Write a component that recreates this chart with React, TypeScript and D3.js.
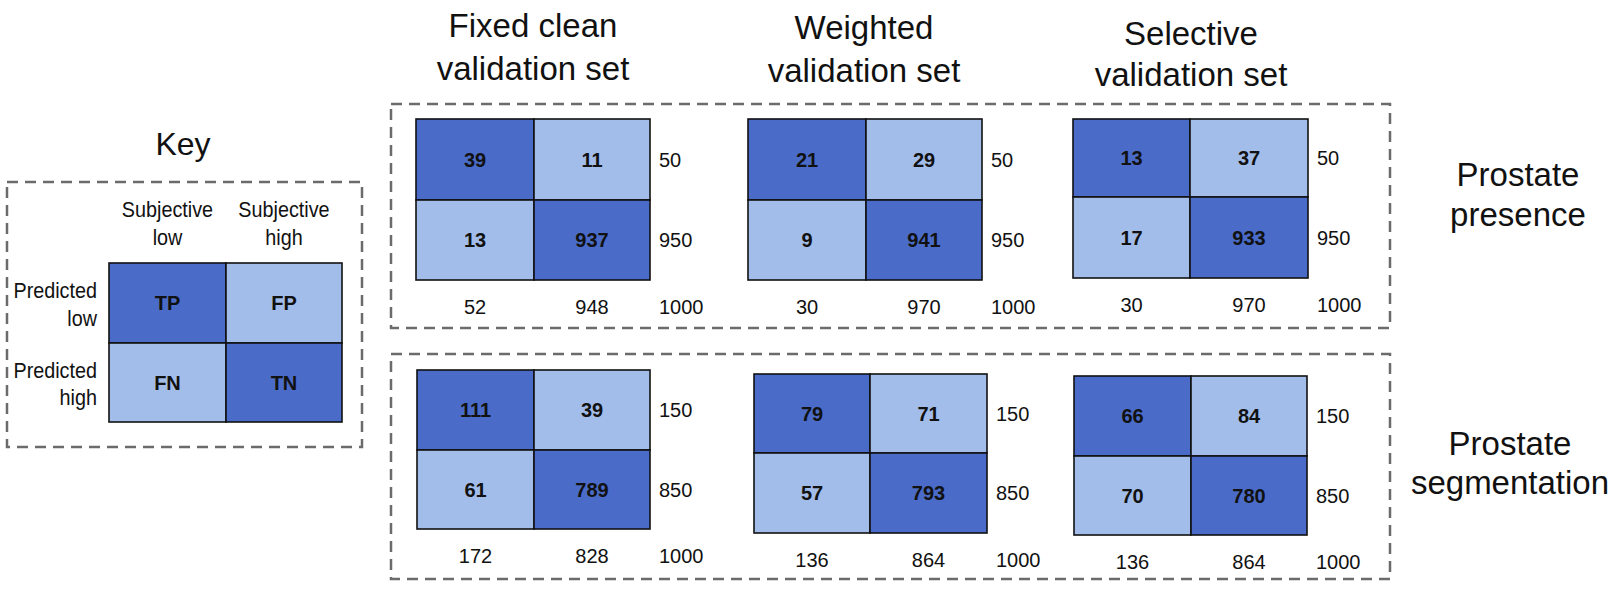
import React from "react";
import * as d3 from "d3";

// ---------- data ----------
const setTitles: string[][] = [
  ["Fixed clean", "validation set"],
  ["Weighted", "validation set"],
  ["Selective", "validation set"],
];
const taskTitles: string[][] = [
  ["Prostate", "presence"],
  ["Prostate", "segmentation"],
];
// presence task, per validation set
const presenceTP = [39, 21, 13];
const presenceFP = [11, 29, 37];
const presenceFN = [13, 9, 17];
const presenceTN = [937, 941, 933];
// segmentation task, per validation set
const segTP = [111, 79, 66];
const segFP = [39, 71, 84];
const segFN = [61, 57, 70];
const segTN = [789, 793, 780];

const keyCells = ["TP", "FP", "FN", "TN"];
const keyColLabels = [["Subjective", "low"], ["Subjective", "high"]];
const keyRowLabels = [["Predicted", "low"], ["Predicted", "high"]];

// ---------- layout (pixel positions, not data) ----------
const W = 1624;
const H = 599;
const FONT = "'Liberation Sans', Arial, Helvetica, sans-serif";
const DARK = "#4A6CC8";
const LIGHT = "#A3BDEA";
const DASH = "#6b6b6b";

// matrix boxes [x0, xMid, x1, y0, yMid, y1] per task row, per set
const matrixBoxes = [
  [
    [416, 534, 650, 119, 200, 280],
    [748, 866, 982, 119, 200, 280],
    [1073, 1190, 1308, 119, 197, 278],
  ],
  [
    [417, 534, 650, 370, 450, 529],
    [754, 870, 987, 374, 453, 533],
    [1074, 1191, 1307, 376, 456, 535],
  ],
];
const titleX = [533, 864, 1191];
const titleY = [[37, 80], [39, 82], [45, 86]];
const groupBoxes = [
  [391, 104, 1390, 328],
  [391, 354, 1390, 579],
];
const taskLabelPos = [
  [1518, 186, 226],
  [1510, 455, 494],
];
const keyBox = [7, 182, 362, 447];
const keyMatrix = [109, 226, 342, 263, 343, 422];
const KEY_SX = 0.9;

function Matrix({ box, values, labels, showTotals }: any) {
  const [x0, xm, x1, y0, ym, y1] = box;
  const xs = d3.scaleLinear().domain([0, 1, 2]).range([x0, xm, x1]);
  const ys = d3.scaleLinear().domain([0, 1, 2]).range([y0, ym, y1]);
  const cells = [0, 1, 2, 3].map((i) => {
    const c = i % 2;
    const r = Math.floor(i / 2);
    return { c, r, dark: c === r, text: labels[i] };
  });
  let totals: any = null;
  if (showTotals) {
    const [tp, fp, fn, tn] = values;
    const rowT = [tp + fp, fn + tn];
    const colT = [tp + fn, fp + tn];
    const all = tp + fp + fn + tn;
    const tx = x1 + 9;
    const ty = y1 + 34;
    totals = (
      <g fontFamily={FONT} fontSize={20} fill="#111">
        {rowT.map((v, r) => (
          <text key={"r" + r} x={tx} y={(ys(r) + ys(r + 1)) / 2} dy="0.35em">
            {v}
          </text>
        ))}
        {colT.map((v, c) => (
          <text key={"c" + c} x={(xs(c) + xs(c + 1)) / 2} y={ty} textAnchor="middle">
            {v}
          </text>
        ))}
        <text x={tx} y={ty}>{all}</text>
      </g>
    );
  }
  return (
    <g>
      {cells.map((d, i) => (
        <g key={i}>
          <rect
            x={xs(d.c)}
            y={ys(d.r)}
            width={xs(d.c + 1) - xs(d.c)}
            height={ys(d.r + 1) - ys(d.r)}
            fill={d.dark ? DARK : LIGHT}
            stroke="#111"
            strokeWidth={1.6}
          />
          <text
            x={(xs(d.c) + xs(d.c + 1)) / 2}
            y={(ys(d.r) + ys(d.r + 1)) / 2}
            dy="0.35em"
            textAnchor="middle"
            fontFamily={FONT}
            fontSize={20}
            fontWeight="bold"
            fill="#111"
          >
            {d.text}
          </text>
        </g>
      ))}
      {totals}
    </g>
  );
}

export default function App() {
  const taskData = [
    [presenceTP, presenceFP, presenceFN, presenceTN],
    [segTP, segFP, segFN, segTN],
  ];
  const [kx0, kxm, kx1] = keyMatrix;
  const colCenters = [(kx0 + kxm) / 2, (kxm + kx1) / 2];
  return (
    <svg
      width={W}
      height={H}
      viewBox={`0 0 ${W} ${H}`}
      style={{ position: "absolute", left: 0, top: 0, display: "block", background: "#fff" }}
    >
      <rect x={0} y={0} width={W} height={H} fill="#fff" />
      {/* Key */}
      <text x={183} y={155} textAnchor="middle" fontFamily={FONT} fontSize={32} fill="#111">
        Key
      </text>
      <rect
        x={keyBox[0]}
        y={keyBox[1]}
        width={keyBox[2] - keyBox[0]}
        height={keyBox[3] - keyBox[1]}
        fill="none"
        stroke={DASH}
        strokeWidth={2.5}
        strokeDasharray="11,7"
      />
      {keyColLabels.map((lines, i) => (
        <g key={"kc" + i} transform={`translate(${colCenters[i]},0) scale(${KEY_SX},1)`}>
          <text textAnchor="middle" fontFamily={FONT} fontSize={22} fill="#111">
            <tspan x={0} y={217}>{lines[0]}</tspan>
            <tspan x={0} y={245}>{lines[1]}</tspan>
          </text>
        </g>
      ))}
      {keyRowLabels.map((lines, i) => (
        <g key={"kr" + i} transform={`translate(97,0) scale(${KEY_SX},1)`}>
          <text textAnchor="end" fontFamily={FONT} fontSize={22} fill="#111">
            <tspan x={0} y={298 + i * 80}>{lines[0]}</tspan>
            <tspan x={0} y={326 + i * 79}>{lines[1]}</tspan>
          </text>
        </g>
      ))}
      <Matrix box={keyMatrix} values={[0, 0, 0, 0]} labels={keyCells} showTotals={false} />

      {/* column titles */}
      {setTitles.map((lines, i) => (
        <text key={"t" + i} textAnchor="middle" fontFamily={FONT} fontSize={33} fill="#111">
          <tspan x={titleX[i]} y={titleY[i][0]}>{lines[0]}</tspan>
          <tspan x={titleX[i]} y={titleY[i][1]}>{lines[1]}</tspan>
        </text>
      ))}

      {/* group boxes */}
      {groupBoxes.map((b, i) => (
        <rect
          key={"gb" + i}
          x={b[0]}
          y={b[1]}
          width={b[2] - b[0]}
          height={b[3] - b[1]}
          fill="none"
          stroke={DASH}
          strokeWidth={2.5}
          strokeDasharray="11,7"
        />
      ))}

      {/* task labels */}
      {taskTitles.map((lines, i) => (
        <text key={"tk" + i} textAnchor="middle" fontFamily={FONT} fontSize={33} fill="#111">
          <tspan x={taskLabelPos[i][0]} y={taskLabelPos[i][1]}>{lines[0]}</tspan>
          <tspan x={taskLabelPos[i][0]} y={taskLabelPos[i][2]}>{lines[1]}</tspan>
        </text>
      ))}

      {/* matrices */}
      {taskData.map((arrs, t) =>
        setTitles.map((_, s) => {
          const vals = arrs.map((a) => a[s]);
          return (
            <Matrix
              key={t + "-" + s}
              box={matrixBoxes[t][s]}
              values={vals}
              labels={vals.map(String)}
              showTotals={true}
            />
          );
        })
      )}
    </svg>
  );
}
